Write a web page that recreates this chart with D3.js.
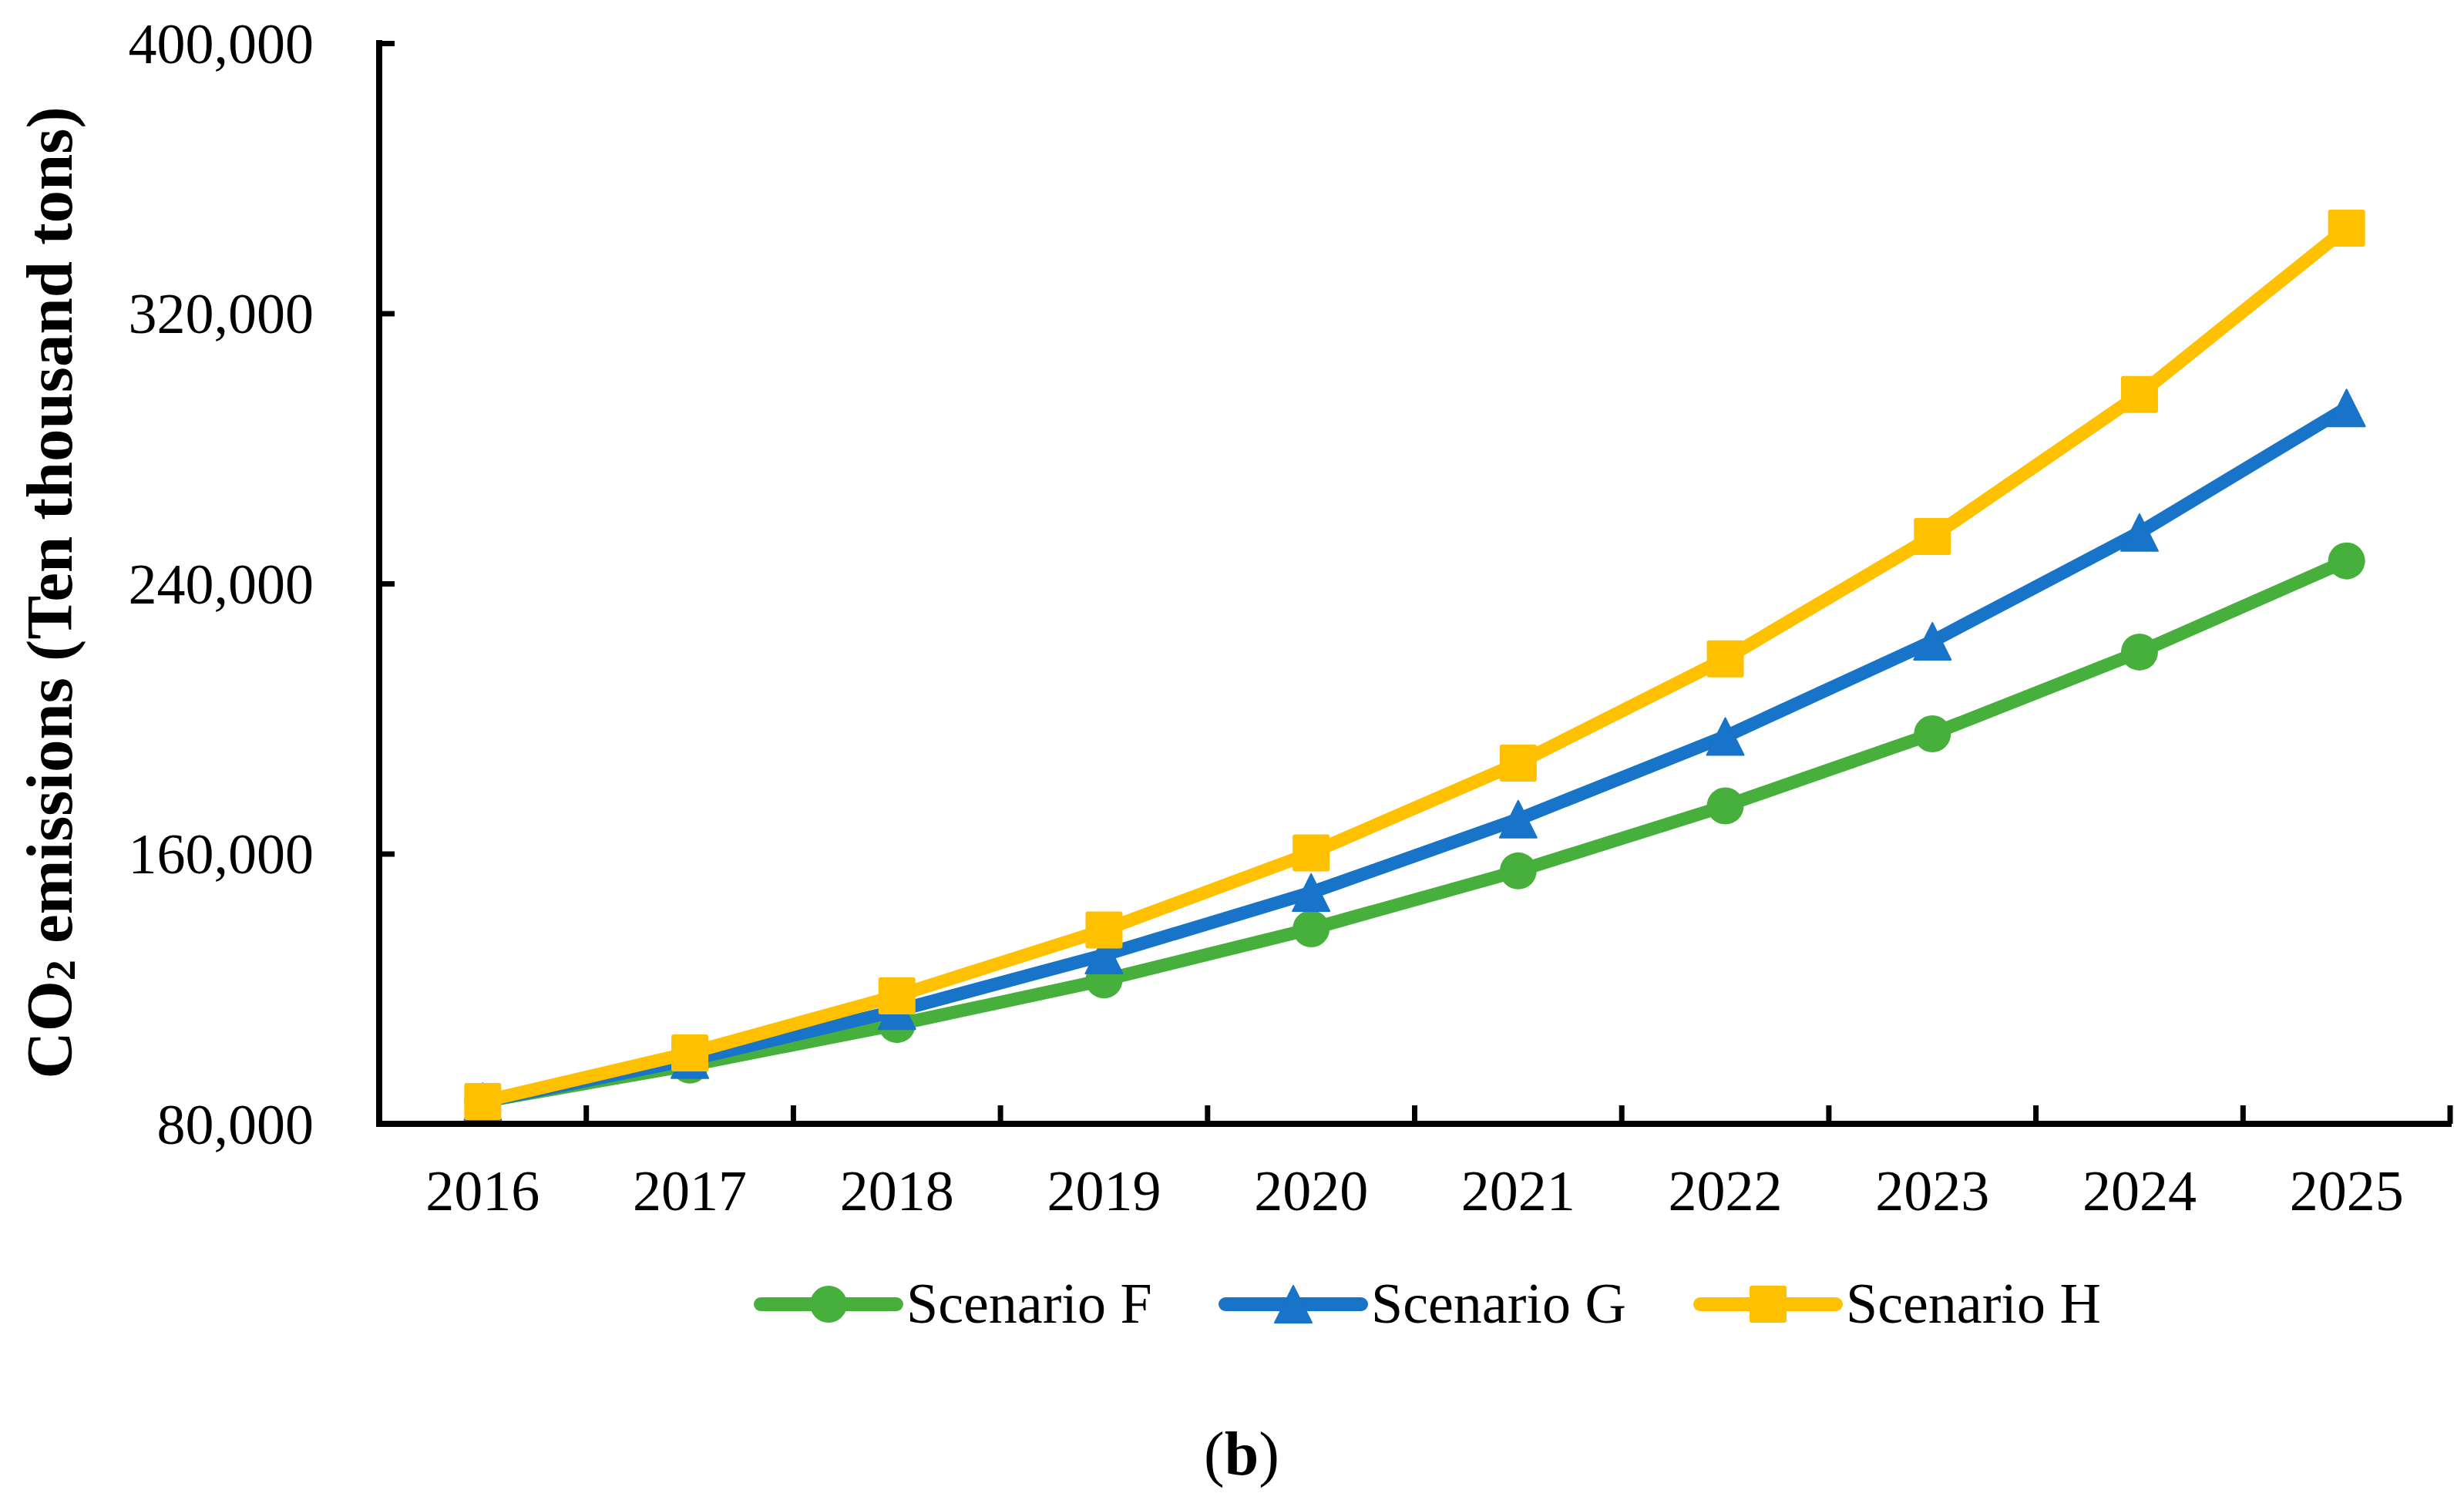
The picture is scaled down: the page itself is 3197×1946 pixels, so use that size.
<!DOCTYPE html>
<html>
<head>
<meta charset="utf-8">
<script src="https://cdn.jsdelivr.net/npm/d3@7"></script>
<style>
  body { margin: 0; background: #fff; }
  text { font-family: "Liberation Serif", "Times New Roman", serif; fill: #000; }
</style>
</head>
<body>
<div id="chart"></div>
<script>
// CO2 emissions, scenarios F / G / H

const years = ['2016', '2017', '2018', '2019', '2020', '2021', '2022', '2023', '2024', '2025'];
const scenarioF = [86600, 97400, 109400, 122600, 137750, 154900, 174150, 195500, 219700, 246700];
const scenarioG = [86600, 99000, 113500, 130000, 148500, 170200, 194700, 222900, 255100, 292000];
const scenarioH = [86600, 101000, 117900, 137400, 160200, 186800, 217700, 253900, 296000, 345200];
const yTicks = [80000, 160000, 240000, 320000, 400000];
const seriesNames = ['Scenario F', 'Scenario G', 'Scenario H'];

const W = 3197, H = 1946;
const plot = { left: 492, right: 3179, top: 56, bottom: 1458 };

const series = [
  { name: seriesNames[0], values: scenarioF, color: '#47B03C', marker: 'circle' },
  { name: seriesNames[1], values: scenarioG, color: '#1874C8', marker: 'triangle' },
  { name: seriesNames[2], values: scenarioH, color: '#FFC000', marker: 'square' }
];

const svg = d3.select('#chart')
  .append('svg')
  .attr('width', W)
  .attr('height', H)
  .style('background', '#fff');

const x = d3.scaleBand()
  .domain(years)
  .range([plot.left, plot.right])
  .paddingInner(0)
  .paddingOuter(0);

const y = d3.scaleLinear()
  .domain([80000, 400000])
  .range([plot.bottom, plot.top]);

const cx = d => x(d) + x.bandwidth() / 2;
const fmt = d3.format(',');

// y axis
const yAxis = svg.append('g')
  .attr('transform', `translate(${plot.left},0)`)
  .call(d3.axisLeft(y).tickValues(yTicks).tickSize(-20).tickPadding(85).tickFormat(fmt));
yAxis.select('.domain').remove();
yAxis.selectAll('.tick line').attr('stroke', '#000').attr('stroke-width', 7);
yAxis.selectAll('.tick text')
  .style('font-family', '"Liberation Serif", "Times New Roman", serif')
  .style('font-size', '74px')
  .attr('dy', '0.34em');

svg.append('line')
  .attr('x1', plot.left).attr('x2', plot.left)
  .attr('y1', plot.top - 4).attr('y2', plot.bottom + 4)
  .attr('stroke', '#000').attr('stroke-width', 8);

// x axis
svg.append('line')
  .attr('x1', plot.left - 4).attr('x2', plot.right + 2)
  .attr('y1', plot.bottom).attr('y2', plot.bottom)
  .attr('stroke', '#000').attr('stroke-width', 8);

svg.append('g')
  .selectAll('line')
  .data(years)
  .join('line')
  .attr('x1', d => x(d) + x.bandwidth())
  .attr('x2', d => x(d) + x.bandwidth())
  .attr('y1', plot.bottom)
  .attr('y2', plot.bottom - 24)
  .attr('stroke', '#000')
  .attr('stroke-width', 7);

svg.append('g')
  .selectAll('text')
  .data(years)
  .join('text')
  .attr('x', d => cx(d))
  .attr('y', 1570)
  .attr('text-anchor', 'middle')
  .style('font-size', '74px')
  .text(d => d);

// y title
const title = svg.append('text')
  .attr('transform', 'translate(93,769) rotate(-90)')
  .attr('text-anchor', 'middle')
  .style('font-size', '85px')
  .style('font-weight', 'bold');
title.append('tspan').text('CO');
title.append('tspan').style('font-size', '54px').attr('dy', 4).text('2');
title.append('tspan').attr('dy', -4).text(' emissions (Ten thousand tons)');

// markers
const SZ = 48;
function drawMarker(g, type, color) {
  if (type === 'circle') {
    g.append('circle').attr('r', SZ / 2).attr('fill', color);
  } else if (type === 'triangle') {
    g.append('path')
      .attr('d', `M0,${-SZ / 2}L${SZ / 2},${SZ / 2}L${-SZ / 2},${SZ / 2}Z`)
      .attr('fill', color)
      .attr('stroke', color)
      .attr('stroke-width', 2)
      .attr('stroke-linejoin', 'round');
  } else {
    g.append('rect')
      .attr('x', -SZ / 2).attr('y', -SZ / 2)
      .attr('width', SZ).attr('height', SZ)
      .attr('rx', 3)
      .attr('fill', color);
  }
}

const line = d3.line()
  .x((d, i) => cx(years[i]))
  .y(d => y(d));

series.forEach(s => {
  const g = svg.append('g');
  g.append('path')
    .datum(s.values)
    .attr('fill', 'none')
    .attr('stroke', s.color)
    .attr('stroke-width', 17)
    .attr('stroke-linejoin', 'round')
    .attr('d', line);
  s.values.forEach((v, i) => {
    const m = g.append('g').attr('transform', `translate(${cx(years[i])},${y(v)})`);
    drawMarker(m, s.marker, s.color);
  });
});

// legend
const legendX = [987, 1590, 2206];
series.forEach((s, i) => {
  const g = svg.append('g').attr('transform', `translate(${legendX[i]},1692)`);
  g.append('line')
    .attr('x1', 0).attr('x2', 176)
    .attr('stroke', s.color)
    .attr('stroke-width', 18)
    .attr('stroke-linecap', 'round');
  const m = g.append('g').attr('transform', 'translate(88,0)');
  drawMarker(m, s.marker, s.color);
  g.append('text')
    .attr('x', 189)
    .attr('y', 24)
    .style('font-size', '74px')
    .text(s.name);
});

// panel label
const lab = svg.append('text')
  .attr('x', 1611)
  .attr('y', 1913)
  .attr('text-anchor', 'middle')
  .style('font-size', '80px');
lab.append('tspan').text('(');
lab.append('tspan').style('font-weight', 'bold').text('b');
lab.append('tspan').text(')');
</script>
</body>
</html>
